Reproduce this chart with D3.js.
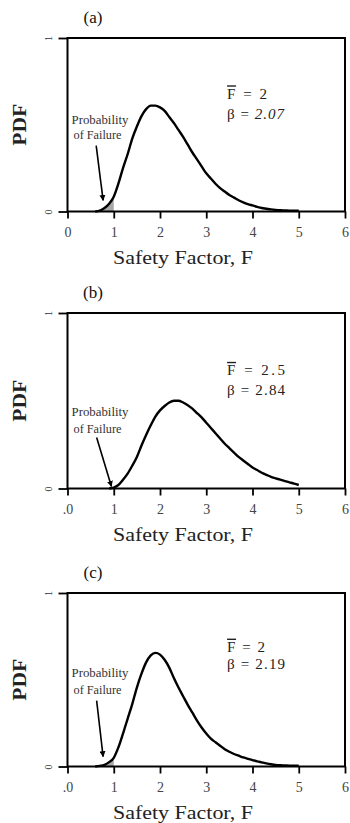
<!DOCTYPE html>
<html><head><meta charset="utf-8">
<script src="https://cdn.jsdelivr.net/npm/d3@7"></script>
<style>html,body{margin:0;padding:0;background:#fff;}svg{display:block;}</style>
</head><body>
<script>
// ---------- DATA ----------
const fGrid = [0.6,0.7,0.8,0.9,1.0,1.1,1.2,1.3,1.4,1.5,1.6,1.7,1.8,1.9,2.0,2.1,2.2,2.3,2.4,2.5,2.6,2.7,2.8,2.9,3.0,3.1,3.2,3.3,3.4,3.5,3.6,3.7,3.8,3.9,4.0,4.1,4.2,4.3,4.4,4.5,4.6,4.7,4.8,4.9,5.0];
const pdfA = [0,0.005,0.02,0.045,0.085,0.16,0.25,0.33,0.42,0.49,0.55,0.59,0.61,0.61,0.60,0.58,0.545,0.51,0.47,0.43,0.385,0.34,0.30,0.26,0.22,0.19,0.16,0.135,0.115,0.095,0.08,0.065,0.053,0.043,0.035,0.027,0.02,0.016,0.012,0.009,0.007,0.006,0.005,0.005,0.005];
const pdfB = [null,null,null,0,0.005,0.02,0.05,0.085,0.13,0.18,0.245,0.305,0.36,0.41,0.445,0.47,0.49,0.5,0.5,0.49,0.475,0.455,0.43,0.405,0.375,0.345,0.315,0.285,0.255,0.23,0.205,0.18,0.16,0.14,0.12,0.105,0.09,0.078,0.066,0.058,0.05,0.042,0.035,0.028,0.02];
const pdfC = [0,0.004,0.01,0.025,0.05,0.11,0.19,0.275,0.36,0.455,0.535,0.6,0.64,0.655,0.645,0.615,0.57,0.51,0.455,0.405,0.355,0.31,0.265,0.225,0.19,0.16,0.14,0.12,0.1,0.085,0.072,0.062,0.052,0.044,0.037,0.03,0.024,0.018,0.013,0.009,0.007,0.006,0.005,0.005,0.005];
const panelLabels = ["(a)","(b)","(c)"];
const meanF = ["2","2.5","2"];
const betaVals = ["2.07","2.84","2.19"];
const xTickValues = [0,1,2,3,4,5,6];
const xTickLabelsA = ["0","1","2","3","4","5","6"];
const xTickLabelsBC = [".0","1","2","3","4","5","6"];
const yTickValues = [0,1];
const yTickLabels = ["0","1"];
const failLimit = 1.0;
const arrowFrom = [[0.62,0.38],[0.63,0.29],[0.63,0.38]];
const arrowTo = [[0.77,0.064],[0.95,0.012],[0.77,0.057]];
const xLabel = "Safety Factor, F";
const yLabel = "PDF";

// ---------- LAYOUT ----------
const W = 350, H = 823;
const panels = [
  {top:38, bottom:211.5, pdf:pdfA, ticks:xTickLabelsA, probY:[0.53,0.44], annY:[0.68,0.565], annW:[40,57], italic:true},
  {top:313, bottom:488.5, pdf:pdfB, ticks:xTickLabelsBC, probY:[0.435,0.34], annY:[0.675,0.565], annW:[58,58], italic:false},
  {top:593, bottom:766.5, pdf:pdfC, ticks:xTickLabelsBC, probY:[0.54,0.44], annY:[0.69,0.59], annW:[38,58], italic:false}
];
const left = 67.5, right = 345;
const serif = "'Liberation Serif','DejaVu Serif',serif";
const curve = d3.curveMonotoneX;

const svg = d3.select("body").append("svg").attr("width",W).attr("height",H);
const defs = svg.append("defs");
defs.append("marker").attr("id","ah").attr("viewBox","0 0 10 10").attr("refX",9).attr("refY",5)
  .attr("markerWidth",6).attr("markerHeight",6).attr("orient","auto-start-reverse")
  .attr("markerUnits","userSpaceOnUse")
  .append("path").attr("d","M0,0 L10,5 L0,10 z").attr("fill","#000");

const x = d3.scaleLinear().domain([0,6]).range([left,right]);

panels.forEach((p,i)=>{
  const g = svg.append("g");
  const y = d3.scaleLinear().domain([0,1]).range([p.bottom,p.top]);
  const pts = fGrid.map((f,k)=>({f, v:p.pdf[k]})).filter(d=>d.v!==null);

  // shaded failure region
  const fail = pts.filter(d=>d.f<=failLimit+1e-9);
  g.append("path").datum(fail)
    .attr("d", d3.area().x(d=>x(d.f)).y0(y(0)).y1(d=>y(d.v)).curve(curve))
    .attr("fill","#a8a8a8");

  // x axis
  const ax = g.append("g").attr("transform",`translate(0,${p.bottom})`)
    .call(d3.axisBottom(x).tickValues(xTickValues).tickSize(7).tickPadding(9)
      .tickFormat((d,k)=>p.ticks[k]));
  ax.select(".domain").remove();
  ax.selectAll(".tick line").attr("stroke","#000").attr("stroke-width",1.8);
  ax.selectAll(".tick text").attr("font-family",serif).attr("font-size",14).attr("fill","#444");

  // y axis
  const ay = g.append("g").attr("transform",`translate(${left},0)`)
    .call(d3.axisLeft(y).tickValues(yTickValues).tickSize(9).tickFormat((d,k)=>yTickLabels[k]));
  ay.select(".domain").remove();
  ay.selectAll(".tick line").attr("stroke","#000").attr("stroke-width",1.8);
  ay.selectAll(".tick text").attr("font-family",serif).attr("font-size",10).attr("fill","#333")
    .attr("x",0).attr("dy",0).attr("text-anchor","middle")
    .attr("transform","translate(-19,0) rotate(-90) translate(0,3)");

  // frame
  g.append("rect").attr("x",left).attr("y",p.top).attr("width",right-left).attr("height",p.bottom-p.top)
    .attr("fill","none").attr("stroke","#000").attr("stroke-width",2);

  // curve
  g.append("path").datum(pts)
    .attr("d", d3.line().x(d=>x(d.f)).y(d=>y(d.v)).curve(curve))
    .attr("fill","none").attr("stroke","#000").attr("stroke-width",2.4).attr("stroke-linejoin","round");

  // arrow
  g.append("line").attr("x1",x(arrowFrom[i][0])).attr("y1",y(arrowFrom[i][1]))
    .attr("x2",x(arrowTo[i][0])).attr("y2",y(arrowTo[i][1]))
    .attr("stroke","#000").attr("stroke-width",1.6).attr("marker-end","url(#ah)");

  // probability of failure text
  [["Probability",100,57],["of Failure",97.5,48]].forEach((t,k)=>{
    g.append("text").attr("x", t[1]).attr("y",y(p.probY[k])).attr("dy","0.35em")
      .attr("text-anchor","middle").attr("font-family",serif).attr("font-size",11.5)
      .attr("fill","#333").attr("textLength",t[2]).attr("lengthAdjust","spacingAndGlyphs").text(t[0]);
  });

  // annotation
  const ax0 = x(3.45);
  g.append("text").attr("x",ax0).attr("y",y(p.annY[0])).attr("dy","0.35em")
    .attr("font-family",serif).attr("font-size",15).attr("fill","#222")
    .attr("textLength",p.annW[0]).attr("lengthAdjust","spacing")
    .text("F = " + meanF[i]);
  g.append("line").attr("x1",ax0).attr("x2",ax0+9).attr("y1",y(p.annY[0])-7.5).attr("y2",y(p.annY[0])-7.5)
    .attr("stroke","#222").attr("stroke-width",1.4);
  const t2 = g.append("text").attr("x",ax0).attr("y",y(p.annY[1])).attr("dy","0.35em")
    .attr("font-family",serif).attr("font-size",15).attr("fill","#222")
    .attr("textLength",p.annW[1]).attr("lengthAdjust","spacing");
  t2.append("tspan").text("β = ");
  t2.append("tspan").attr("font-style",p.italic?"italic":"normal").text(betaVals[i]);

  // panel label
  g.append("text").attr("x",93).attr("y",p.top-21).attr("dy","0.35em").attr("text-anchor","middle")
    .attr("font-family",serif).attr("font-size",17).attr("fill","#111").text(panelLabels[i]);

  // axis titles
  g.append("text").attr("x",183).attr("y",p.bottom+46).attr("dy","0.35em").attr("text-anchor","middle")
    .attr("font-family",serif).attr("font-size",18).attr("fill","#222")
    .attr("textLength",140).attr("lengthAdjust","spacingAndGlyphs").text(xLabel);
  g.append("text").attr("transform",`translate(20,${(p.top+p.bottom)/2}) rotate(-90)`)
    .attr("dy","0.35em").attr("text-anchor","middle")
    .attr("font-family",serif).attr("font-size",18).attr("font-weight","bold").attr("fill","#222")
    .attr("textLength",42).attr("lengthAdjust","spacingAndGlyphs").text(yLabel);
});
</script>
</body></html>
